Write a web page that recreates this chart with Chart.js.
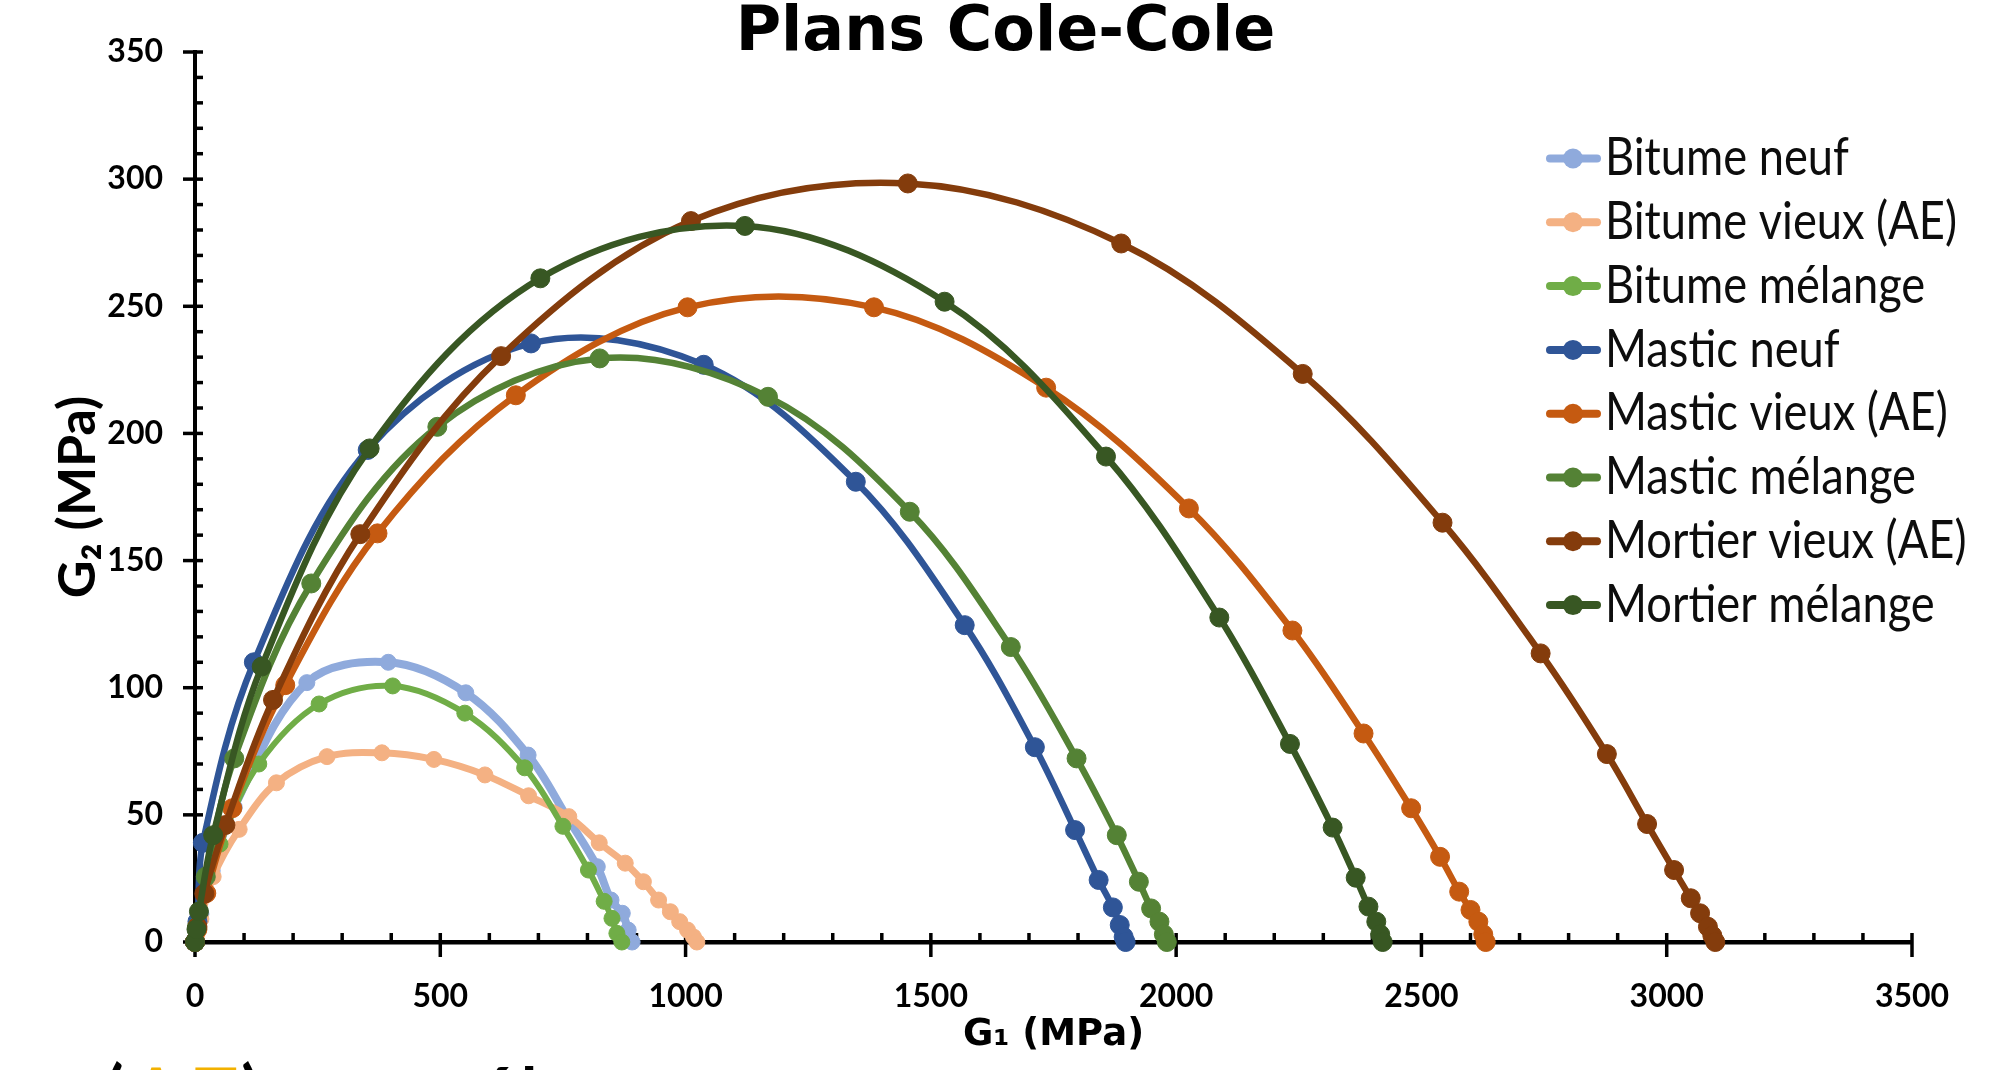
<!DOCTYPE html>
<html lang="fr">
<head>
<meta charset="UTF-8">
<title>Plans Cole-Cole</title>
<script src="https://cdn.jsdelivr.net/npm/chart.js"></script>
<style>
  html, body { margin: 0; padding: 0; background: #fff; overflow: hidden; }
  #wrap { position: relative; width: 2011px; height: 1070px; overflow: hidden; }
  #note { position: absolute; left: 100px; top: 1050px; font: 106px/106px Lato, sans-serif; color: #000; white-space: nowrap;
          transform: scaleX(0.87); transform-origin: 0 0; }
  #note span { color: #F2B100; }
</style>
</head>
<body>
<div id="wrap">
  <canvas id="myChart" width="2011" height="1070"></canvas>
  <div id="note">(<span>AE</span>) et mélange</div>
</div>

<script>
// Series names and colours (legend order)
const seriesNames = ['Bitume neuf', 'Bitume vieux (AE)', 'Bitume mélange', 'Mastic neuf',
                     'Mastic vieux (AE)', 'Mastic mélange', 'Mortier vieux (AE)', 'Mortier mélange'];
const seriesColors = ['#8FAADC', '#F4B183', '#70AD47', '#2F5597', '#C55A11', '#548235', '#843C0C', '#385723'];

// G1 / G2 values in MPa
const bitumeNeufG1 = [0, 4, 12, 35, 80, 228, 394, 552, 679, 760, 820, 848, 871, 883, 891];
const bitumeNeufG2 = [0, 4, 11, 28, 53, 102, 110, 98, 73.5, 48.6, 29.6, 16.5, 11.3, 4.7, 0];

const bitumeVieuxG1 = [0, 4, 12, 37, 90, 166, 269, 381, 487, 591, 680, 762, 824, 877, 914, 945, 969, 988, 1004, 1016, 1023];
const bitumeVieuxG2 = [0, 3, 9, 25.7, 44.3, 62.6, 72.9, 74.4, 71.8, 65.7, 57.5, 49.3, 39, 31, 23.7, 16.5, 11.9, 8, 4.7, 2, 0];

const bitumeMelangeG1 = [0, 3, 8, 51, 130, 253, 403, 550, 672, 750, 802, 834, 850, 860, 870];
const bitumeMelangeG2 = [0, 4, 12, 38.5, 70, 93.6, 100.7, 90, 68.5, 45.5, 28.3, 16, 9.3, 3.4, 0];

const masticNeufG1 = [0, 5, 16, 120, 352, 685, 1037, 1347, 1569, 1712, 1794, 1842, 1871, 1885, 1893, 1897];
const masticNeufG2 = [0, 8, 39, 110, 193.5, 235.4, 227, 181, 124.6, 76.6, 44, 24.4, 13.6, 6.7, 2, 0];

const masticVieuxG1 = [0, 5, 23, 76, 184, 372, 654, 1004, 1384, 1735, 2026, 2237, 2382, 2479, 2538, 2577, 2600, 2616, 2626, 2631];
const masticVieuxG2 = [0, 5, 19.2, 52.6, 101, 160.7, 215, 249.6, 249.6, 218, 170.5, 122.5, 82, 52.6, 33.5, 19.8, 12.6, 8, 3, 0];

const masticMelangeG1 = [0, 4, 22, 80, 237, 494, 825, 1168, 1457, 1663, 1797, 1879, 1924, 1949, 1966, 1975, 1981];
const masticMelangeG2 = [0, 6, 25.7, 72.2, 141, 202.6, 229.5, 214.4, 169.2, 116, 72.2, 42, 23.7, 13.2, 8, 3, 0];

const mortierVieuxG1 = [0, 5, 19, 62, 159, 337, 624, 1011, 1453, 1888, 2258, 2543, 2743, 2878, 2960, 3015, 3049, 3068, 3084, 3093, 3099];
const mortierVieuxG2 = [0, 6, 19, 46, 95.2, 160.4, 230.4, 283.5, 298.3, 274.7, 223.4, 164.9, 113.5, 73.9, 46.4, 28.3, 17.2, 11.3, 6, 2.5, 0];

const mortierMelangeG1 = [0, 3, 8, 37, 136, 356, 704, 1121, 1528, 1857, 2088, 2232, 2319, 2366, 2392, 2408, 2416, 2421];
const mortierMelangeG2 = [0, 5, 12, 42, 108.3, 194.1, 261, 281.6, 251.8, 190.9, 127.6, 77.9, 45, 25.3, 13.9, 8, 3, 0];

// Axis tick labels
const xTickValues = [0, 500, 1000, 1500, 2000, 2500, 3000, 3500];
const yTickValues = [0, 50, 100, 150, 200, 250, 300, 350];

const allG1 = [bitumeNeufG1, bitumeVieuxG1, bitumeMelangeG1, masticNeufG1, masticVieuxG1, masticMelangeG1, mortierVieuxG1, mortierMelangeG1];
const allG2 = [bitumeNeufG2, bitumeVieuxG2, bitumeMelangeG2, masticNeufG2, masticVieuxG2, masticMelangeG2, mortierVieuxG2, mortierMelangeG2];

const lineWidths = [8, 7, 6, 6.5, 6.5, 6.5, 6.5, 6.5];
const dotSizes = [8, 8, 8, 9.5, 9.5, 9.5, 9.5, 9.5];

const tickFont = { family: 'Lato, sans-serif', size: 32, weight: 'bold', lineHeight: 1.2 };

const datasets = seriesNames.map((name, i) => ({
    label: name,
    data: allG1[i].map((g1, k) => ({ x: g1, y: allG2[i][k] })),
    showLine: true,
    tension: 0.35,
    borderColor: seriesColors[i],
    backgroundColor: seriesColors[i],
    borderWidth: lineWidths[i],
    pointRadius: dotSizes[i],
    pointBorderWidth: 1,
    pointBackgroundColor: seriesColors[i],
    pointBorderColor: seriesColors[i],
    clip: false,
    yAxisID: 'y',
    order: seriesNames.length - i   // later series drawn on top, like Excel
}));

// minor + major tick marks crossing the axes
const axisTicks = {
    id: 'axisTicks',
    beforeDatasetsDraw(chart) {
        const { ctx, scales: { x, y } } = chart;
        ctx.save();
        ctx.strokeStyle = '#000';
        ctx.lineWidth = 3.5;
        for (let v = x.min; v <= x.max; v += 100) {
            const px = x.getPixelForValue(v);
            const major = v % 500 === 0;
            ctx.beginPath();
            ctx.moveTo(px, y.bottom - 9);
            ctx.lineTo(px, y.bottom + (major ? 15 : 0));
            ctx.stroke();
        }
        for (let v = y.min; v <= y.max; v += 10) {
            const py = y.getPixelForValue(v);
            const major = v % 50 === 0;
            ctx.beginPath();
            ctx.moveTo(x.left + 8, py);
            ctx.lineTo(x.left - (major ? 12 : 0), py);
            ctx.stroke();
        }
        ctx.restore();
    }
};

// legend drawn over the right part of the plot, as in the original
const sideLegend = {
    id: 'sideLegend',
    afterDraw(chart) {
        const ctx = chart.ctx;
        ctx.save();
        ctx.font = '52px Lato, sans-serif';
        ctx.textBaseline = 'middle';
        // squeeze the text a bit so it has Calibri-like proportions
        const sx = 352 / ctx.measureText('Bitume vieux (AE)').width;
        chart.data.datasets.forEach((ds, i) => {
            const yy = 158.5 + i * 63.8;
            ctx.strokeStyle = ds.borderColor;
            ctx.lineWidth = 8;
            ctx.lineCap = 'round';
            ctx.beginPath();
            ctx.moveTo(1550, yy);
            ctx.lineTo(1597, yy);
            ctx.stroke();
            ctx.fillStyle = ds.borderColor;
            ctx.beginPath();
            ctx.arc(1573, yy, 10, 0, Math.PI * 2);
            ctx.fill();
            ctx.fillStyle = '#0d0d0d';
            ctx.save();
            ctx.translate(1605, yy);
            ctx.scale(sx, 1);
            ctx.fillText(ds.label, 0, 0);
            ctx.restore();
        });
        ctx.restore();
    }
};

const ctx = document.getElementById('myChart').getContext('2d');
const myChart = new Chart(ctx, {
    type: 'scatter',
    data: { datasets: datasets },
    plugins: [axisTicks, sideLegend],
    options: {
        responsive: false,
        devicePixelRatio: 1,
        animation: false,
        layout: { padding: 0 },
        plugins: {
            legend: { display: false },
            tooltip: { enabled: false },
            title: {
                display: true,
                text: 'Plans Cole-Cole',
                color: '#000',
                font: { family: "'DejaVu Sans', sans-serif", size: 62, weight: 'bold', lineHeight: 1 },
                padding: { top: 2.5, bottom: -12.5 }
            }
        },
        scales: {
            x: {
                type: 'linear',
                min: 0,
                max: 3500,
                afterBuildTicks: (s) => { s.ticks = xTickValues.map(v => ({ value: v })); },
                afterFit: (s) => { s.height = 128; },
                grid: { display: false, drawTicks: false },
                border: { display: true, color: '#000', width: 4.5 },
                ticks: {
                    padding: 35,
                    color: '#000',
                    maxRotation: 0,
                    font: tickFont,
                    callback: (v) => String(v)
                },
                title: {
                    display: true,
                    text: 'G₁ (MPa)',
                    color: '#000',
                    font: { family: "'DejaVu Sans', sans-serif", size: 37, weight: 'bold', lineHeight: 1.2 },
                    padding: { top: 0, bottom: 12.8 }
                }
            },
            y: {
                type: 'linear',
                position: 'left',
                min: 0,
                max: 350,
                afterBuildTicks: (s) => { s.ticks = yTickValues.map(v => ({ value: v })); },
                afterFit: (s) => { s.width = 195; },
                grid: { display: false, drawTicks: false },
                border: { display: true, color: '#000', width: 4 },
                ticks: {
                    padding: 32,
                    color: '#000',
                    font: tickFont,
                    callback: (v) => String(v)
                },
                title: {
                    display: true,
                    text: 'G₂ (MPa)',
                    color: '#000',
                    font: { family: 'Lato, sans-serif', size: 52, weight: 'bold', lineHeight: 1.2 },
                    padding: { top: 46.8, bottom: 0 }
                }
            },
            // empty right-hand box: keeps the plot ending at 3500 while the title stays centred on the page
            yRight: {
                type: 'linear',
                position: 'right',
                min: 0,
                max: 1,
                afterFit: (s) => { s.width = 99; },
                grid: { display: false, drawTicks: false },
                border: { display: false },
                ticks: { display: false }
            }
        }
    }
});
</script>
</body>
</html>
